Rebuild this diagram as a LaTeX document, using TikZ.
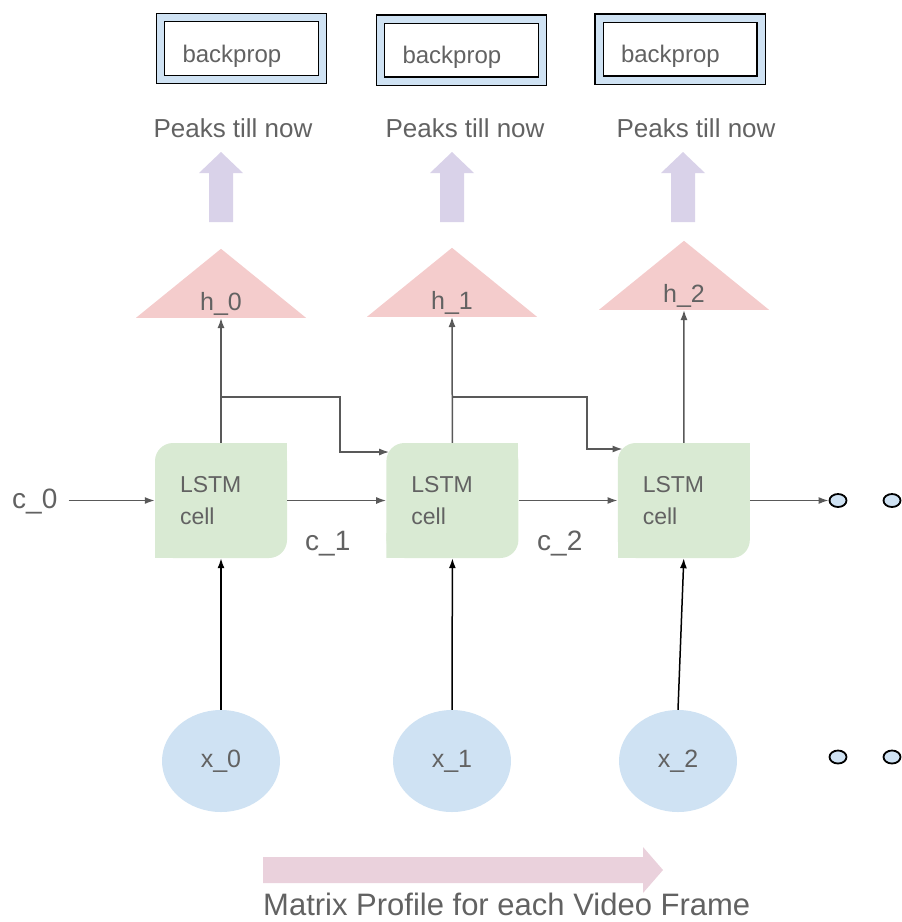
\documentclass[tikz,border=0pt]{standalone}
\usepackage{fontspec}
\setmainfont{Liberation Sans}
\usetikzlibrary{positioning, calc, arrows.meta, shapes.geometric}

\definecolor{cellgreen}{HTML}{D9EAD3}
\definecolor{inblue}{HTML}{CFE2F3}
\definecolor{hpink}{HTML}{F4CCCC}
\definecolor{peaklav}{HTML}{D9D2E9}
\definecolor{framepink}{HTML}{EAD1DC}
\definecolor{txtgray}{HTML}{626262}
\definecolor{linegray}{HTML}{595959}

\begin{document}
\begin{tikzpicture}
    [x=1pt, y=-1pt,
    cellnode/.style={rectangle, minimum width=132pt, minimum height=115pt, inner xsep=25pt, text width=82pt, align=left, text=txtgray, font=\fontsize{23}{32}\selectfont,
        path picture={
            \fill[cellgreen, rounded corners=18pt] (path picture bounding box.south west) rectangle (path picture bounding box.north east);
            \fill[cellgreen] (path picture bounding box.north east) rectangle ([xshift=-25pt, yshift=-25pt]path picture bounding box.north east);
            \fill[cellgreen] (path picture bounding box.south west) rectangle ([xshift=25pt, yshift=25pt]path picture bounding box.south west);}},
    hnode/.style={rectangle, minimum width=170pt, minimum height=69pt, inner sep=0pt, anchor=south,
        path picture={\fill[hpink] (path picture bounding box.south west) -- (path picture bounding box.north) -- (path picture bounding box.south east) -- cycle;}},
    xnode/.style={ellipse, fill=inblue, minimum width=118pt, minimum height=102pt, text=txtgray, font=\fontsize{25}{25}\selectfont},
    dotnode/.style={ellipse, draw=black, line width=1.8pt, fill=inblue, minimum width=17pt, minimum height=13pt, inner sep=0pt},
    bpbox/.style={rectangle, draw=black, line width=1.2pt, double=inblue, double distance=7pt, fill=white, minimum width=162pt, minimum height=62pt, inner xsep=22pt, text width=118pt, text height=27pt, text depth=0pt, align=left, text=txtgray, font=\fontsize{24}{24}\selectfont},
    textlabel/.style={inner sep=0pt, text=txtgray, font=\fontsize{#1}{#1}\selectfont},
    conn/.style={draw=linegray, line width=1.5pt, -{Latex[length=10pt, width=7pt]}},
    inconn/.style={draw=black, line width=1.5pt, -{Latex[length=10pt, width=7pt]}},]

    %Nodes
    \node[cellnode](c0) at (221,500.5){LSTM\\cell};
    \node[cellnode](c1)[right=99pt of c0]{LSTM\\cell};
    \node[cellnode](c2)[right=99pt of c1]{LSTM\\cell};

    \node[hnode](h0) at (221,318){};
    \node[hnode](h1) at (452,317){};
    \node[hnode](h2) at (684,310){};
    \node[textlabel=25, anchor=base](h0text) at ([yshift=8pt]h0.south){h\_0};
    \node[textlabel=25, anchor=base](h1text) at ([yshift=8pt]h1.south){h\_1};
    \node[textlabel=25, anchor=base](h2text) at ([yshift=8pt]h2.south){h\_2};

    \node[xnode](x0) at (221,761){x\_0};
    \node[xnode](x1) at (452,761){x\_1};
    \node[xnode](x2) at (678,761){x\_2};

    \node[dotnode](d0) at (838,500.5){};
    \node[dotnode](d1) at (892,500.5){};
    \node[dotnode](d2) at (838,757){};
    \node[dotnode](d3) at (892,757){};

    \node[textlabel=28, anchor=base west](cin) at (12,508){c\_0};
    \node[textlabel=28, anchor=base west](cl1) at (305,550){c\_1};
    \node[textlabel=28, anchor=base west](cl2) at (537,550){c\_2};

    \node[textlabel=26, anchor=base](p0) at (233,137){Peaks till now};
    \node[textlabel=26, anchor=base](p1) at (465,137){Peaks till now};
    \node[textlabel=26, anchor=base](p2) at (696,137){Peaks till now};

    \node[bpbox](bp0) at (241.5,48.5){backprop};
    \node[bpbox](bp1) at (461.5,50){backprop};
    \node[bpbox](bp2) at (680,49){backprop};

    \node[textlabel=31, anchor=base west](mp) at (263,915){Matrix Profile for each Video Frame};

    %Fat arrows
    \foreach \ax in {221,452,683}
        \fill[peaklav] (\ax-12,222) -- (\ax-12,173) -- (\ax-22,173) -- (\ax,152) -- (\ax+22,173) -- (\ax+12,173) -- (\ax+12,222) -- cycle;
    \fill[framepink] (263,857) -- (643,857) -- (643,847) -- (663,870) -- (643,893) -- (643,883) -- (263,883) -- cycle;

    %Lines
    \draw[conn] ($(cin.east |- c0.west)+(11,0)$) -- (c0.west);
    \draw[conn] (c0.east) -- (c1.west);
    \draw[conn] (c1.east) -- (c2.west);
    \draw[conn] (c2.east) -- (d0.west);

    \draw[conn] (c0.north) -- (h0.south);
    \draw[conn] (c1.north) -- (h1.south);
    \draw[conn] (c2.north) -- (h2.south);

    \coordinate (b0) at (221,397);
    \coordinate (k0) at (340,452);
    \coordinate (b1) at (452,397);
    \coordinate (k1) at (587,449);
    \draw[conn] (b0) -| (k0) -- ([xshift=3pt]k0 -| c1.west);
    \draw[conn] (b1) -| (k1) -- ([xshift=5pt]k1 -| c2.west);

    \draw[inconn] (x0.north) -- (c0.south);
    \draw[inconn] (x1.north) -- (c1.south);
    \draw[inconn] (x2.north) -- (c2.south);

    \useasboundingbox (0,0) rectangle (898,922);
\end{tikzpicture}
\end{document}
